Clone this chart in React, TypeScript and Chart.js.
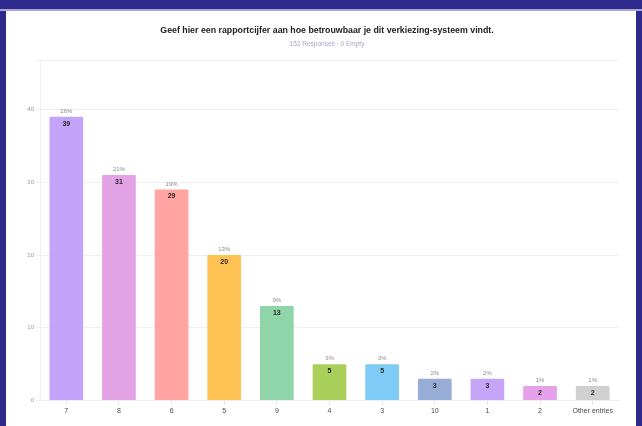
import React, { useEffect, useRef } from "react";
import { Chart, registerables } from "chart.js";

Chart.register(...registerables);

const categories = ["7", "8", "6", "5", "9", "4", "3", "10", "1", "2", "Other entries"];
const counts = [39, 31, 29, 20, 13, 5, 5, 3, 3, 2, 2];
const percentLabels = ["26%", "21%", "19%", "13%", "9%", "3%", "3%", "2%", "2%", "1%", "1%"];
const barColors = [
  "#c4a3fb",
  "#e2a2e4",
  "#ffa4a3",
  "#ffc255",
  "#8fd5a9",
  "#a9cf5b",
  "#7ecbf6",
  "#97acd7",
  "#c6a5f8",
  "#e7a1ea",
  "#d0d0d0",
];
const yTicks = [0, 10, 20, 30, 40];
const titleText = "Geef hier een rapportcijfer aan hoe betrouwbaar je dit verkiezing-systeem vindt.";
const subtitleText = "152 Responses · 0 Empty";

const FONT = "'Liberation Sans', Arial, sans-serif";

const labelPlugin = {
  id: "barLabels",
  afterDatasetsDraw(chart: any) {
    const ctx = chart.ctx;
    const meta = chart.getDatasetMeta(0);
    ctx.save();
    ctx.textAlign = "center";
    meta.data.forEach((bar: any, i: number) => {
      ctx.font = `bold 7px ${FONT}`;
      ctx.fillStyle = "#262627";
      ctx.textBaseline = "middle";
      ctx.fillText(String(counts[i]), bar.x, bar.y + 7);
      ctx.font = `6px ${FONT}`;
      ctx.fillStyle = "#8a8a8a";
      ctx.textBaseline = "bottom";
      ctx.fillText(percentLabels[i], bar.x, bar.y - 2.5);
    });
    ctx.restore();
  },
};

export default function App() {
  const ref = useRef<HTMLCanvasElement | null>(null);

  useEffect(() => {
    if (!ref.current) return;
    const maxY = Math.max(...counts) * 1.2;
    const chart = new Chart(ref.current, {
      type: "bar",
      data: {
        labels: categories,
        datasets: [
          {
            data: counts,
            backgroundColor: barColors,
            borderWidth: 0,
            borderRadius: 1,
            barPercentage: 0.64,
            categoryPercentage: 1,
          },
        ],
      },
      plugins: [labelPlugin],
      options: {
        animation: false,
        responsive: false,
        maintainAspectRatio: false,
        layout: { padding: { left: 0, right: 17, top: 49, bottom: 9 } },
        plugins: {
          legend: { display: false },
          tooltip: { enabled: false },
          title: { display: false },
        },
        scales: {
          x: {
            grid: {
              display: true,
              drawOnChartArea: false,
              offset: false,
              color: "#e6e6e6",
              tickLength: 4,
            },
            border: { display: true, color: "#eeeeee" },
            ticks: {
              color: "#4a4a4a",
              font: { family: FONT, size: 7 },
              padding: 2,
              autoSkip: false,
              maxRotation: 0,
            },
          },
          y: {
            min: 0,
            max: maxY,
            afterBuildTicks(scale: any) {
              scale.ticks = [...yTicks.map((v) => ({ value: v })), { value: maxY }];
            },
            afterFit(scale: any) {
              scale.width = 34;
            },
            grid: {
              color: "#efefef",
              tickLength: 4,
            },
            border: { display: true, color: "#f0f0f0" },
            ticks: {
              color: "#9a9a9a",
              font: { family: FONT, size: 6 },
              padding: 2,
              callback: (v: any) => (yTicks.includes(v) ? String(v) : ""),
            },
          },
        },
      },
    });
    return () => chart.destroy();
  }, []);

  return (
    <div
      style={{
        position: "fixed",
        left: 0,
        top: 0,
        width: 642,
        height: 426,
        background: "#2d2a8b",
        overflow: "hidden",
      }}
    >
      <div
        style={{
          position: "absolute",
          left: 0,
          right: 0,
          top: 9,
          height: 2,
          background: "#a8a5d9",
        }}
      />
      <div
        style={{
          position: "absolute",
          left: 6,
          top: 11,
          width: 630,
          height: 415,
          background: "#ffffff",
        }}
      >
        <canvas ref={ref} width={630} height={415} style={{ display: "block" }} />
      </div>
      <div
        style={{
          position: "absolute",
          left: 12,
          width: 630,
          top: 25,
          lineHeight: "10px",
          textAlign: "center",
          fontFamily: FONT,
          fontWeight: "bold",
          fontSize: 8.8,
          color: "#222222",
          whiteSpace: "nowrap",
        }}
      >
        {titleText}
      </div>
      <div
        style={{
          position: "absolute",
          left: 12,
          width: 630,
          top: 40,
          lineHeight: "8px",
          textAlign: "center",
          fontFamily: FONT,
          fontSize: 6.5,
          color: "#a3a6c8",
          whiteSpace: "nowrap",
        }}
      >
        {subtitleText}
      </div>
    </div>
  );
}
